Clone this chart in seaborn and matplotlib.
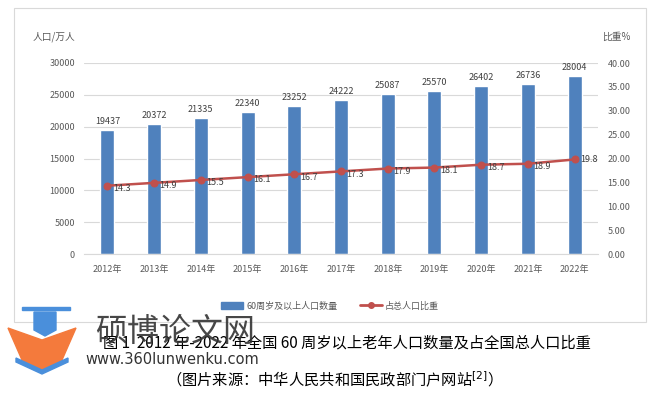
import numpy as np
import matplotlib
matplotlib.use('Agg')
import matplotlib.pyplot as plt
from matplotlib.patches import Rectangle, Polygon
from matplotlib.lines import Line2D
import seaborn as sns

# data
years = ['2012年', '2013年', '2014年', '2015年', '2016年', '2017年',
         '2018年', '2019年', '2020年', '2021年', '2022年']
pop_60 = [19437, 20372, 21335, 22340, 23252, 24222, 25087, 25570, 26402, 26736, 28004]
share = [14.3, 14.9, 15.5, 16.1, 16.7, 17.3, 17.9, 18.1, 18.7, 18.9, 19.8]
left_ticks = [0, 5000, 10000, 15000, 20000, 25000, 30000]
right_ticks = [0, 5, 10, 15, 20, 25, 30, 35, 40]

sns.set_style('white')
plt.rcParams['font.family'] = ['Noto Sans CJK SC', 'DejaVu Sans']

W, H = 660, 396
fig = plt.figure(figsize=(6.6, 3.96), dpi=100)

def px(x, y):
    return x / W, 1 - y / H

bar_col = '#4F81BD'
line_col = '#C0504D'
txt = '#595959'

# chart frame
fig.patches.append(Rectangle(px(14, 322), 632 / W, 314 / H, transform=fig.transFigure,
                             fill=False, edgecolor='#D9D9D9', lw=0.8))

ax = fig.add_axes([84 / W, 1 - 254 / H, 514 / W, 191 / H])
xs = np.arange(len(years))
sns.barplot(x=years, y=pop_60, color=bar_col, width=0.3, ax=ax, saturation=1)
ax.set_xlim(-0.5, len(years) - 0.5)
ax.set_ylim(0, 30000)
ax.set_yticks(left_ticks)
ax.yaxis.grid(True, color='#D9D9D9', lw=0.8)
ax.set_axisbelow(True)
for s in ['top', 'right', 'left']:
    ax.spines[s].set_visible(False)
ax.spines['bottom'].set_color('#D9D9D9')
ax.tick_params(axis='both', length=0, labelsize=6.5, labelcolor=txt, pad=8)
ax.tick_params(axis='y', pad=6.5)
ax.set_xlabel('')
ax.set_ylabel('')
for i, v in enumerate(pop_60):
    ax.annotate(str(v), (i, v), xytext=(0, 3), textcoords='offset points',
                ha='center', va='bottom', fontsize=6.5, color='#404040')

ax2 = ax.twinx()
sns.lineplot(x=xs, y=share, ax=ax2, color=line_col, lw=1.8, marker='o',
             markersize=5, markeredgecolor=line_col)
ax2.set_ylim(0, 40)
ax2.set_yticks(right_ticks)
ax2.set_yticklabels(['%.2f' % t for t in right_ticks])
for s in ax2.spines.values():
    s.set_visible(False)
ax2.tick_params(axis='y', length=0, labelsize=6.5, labelcolor=txt, pad=7)
ax2.set_ylabel('')
for i, v in enumerate(share):
    dy = 0 if i == len(share) - 1 else -2
    ax2.annotate(str(v), (i, v), xytext=(4, dy), textcoords='offset points',
                 ha='left', va='center', fontsize=6.5, color='#404040')

fig.text(*px(54, 37), '人口/万人', ha='center', va='center', fontsize=7, color=txt)
fig.text(*px(616, 37), '比重%', ha='center', va='center', fontsize=7, color=txt)

handles = [Rectangle((0, 0), 1, 1, color=bar_col),
           Line2D([0], [0], color=line_col, lw=2, marker='o', markersize=4)]
fig.legend(handles, ['60周岁及以上人口数量', '占总人口比重'], loc='center',
           bbox_to_anchor=px(330, 306), ncol=2, frameon=False, fontsize=6.5,
           labelcolor=txt, handlelength=2.5, columnspacing=2.5, handletextpad=0.3)

# caption
fig.text(*px(347, 343), '图 1  2012 年-2022 年全国 60 周岁以上老年人口数量及占全国总人口比重',
         ha='center', va='center', fontsize=11, color='black')
fig.text(*px(330, 380), '（图片来源：中华人民共和国民政部门户网站$^{[2]}$）',
         ha='center', va='center', fontsize=11, color='black')

# watermark logo
def poly(pts, col):
    fig.patches.append(Polygon([px(a, b) for a, b in pts], closed=True,
                               transform=fig.transFigure, color=col, zorder=5))

poly([(8, 328), (42, 340), (76, 328), (62, 360), (42, 370), (22, 360)], '#F47A3C')
poly([(22, 307), (70, 307), (70, 310), (22, 310)], '#4A8FDB')
poly([(34, 312), (56, 312), (56, 330), (45, 336), (34, 330)], '#4A8FDB')
poly([(16, 358), (42, 370), (68, 358), (68, 362), (42, 374), (16, 362)], '#4A8FDB')
fig.text(*px(95, 332), '硕博论文网', ha='left', va='center', fontsize=23,
         color='#333333', alpha=0.9, zorder=6)
fig.text(*px(85, 359), 'www.360lunwenku.com', ha='left', va='center',
         fontsize=10.5, color='#333333', zorder=6, family='DejaVu Sans')

fig.savefig('out.png', dpi=100)
